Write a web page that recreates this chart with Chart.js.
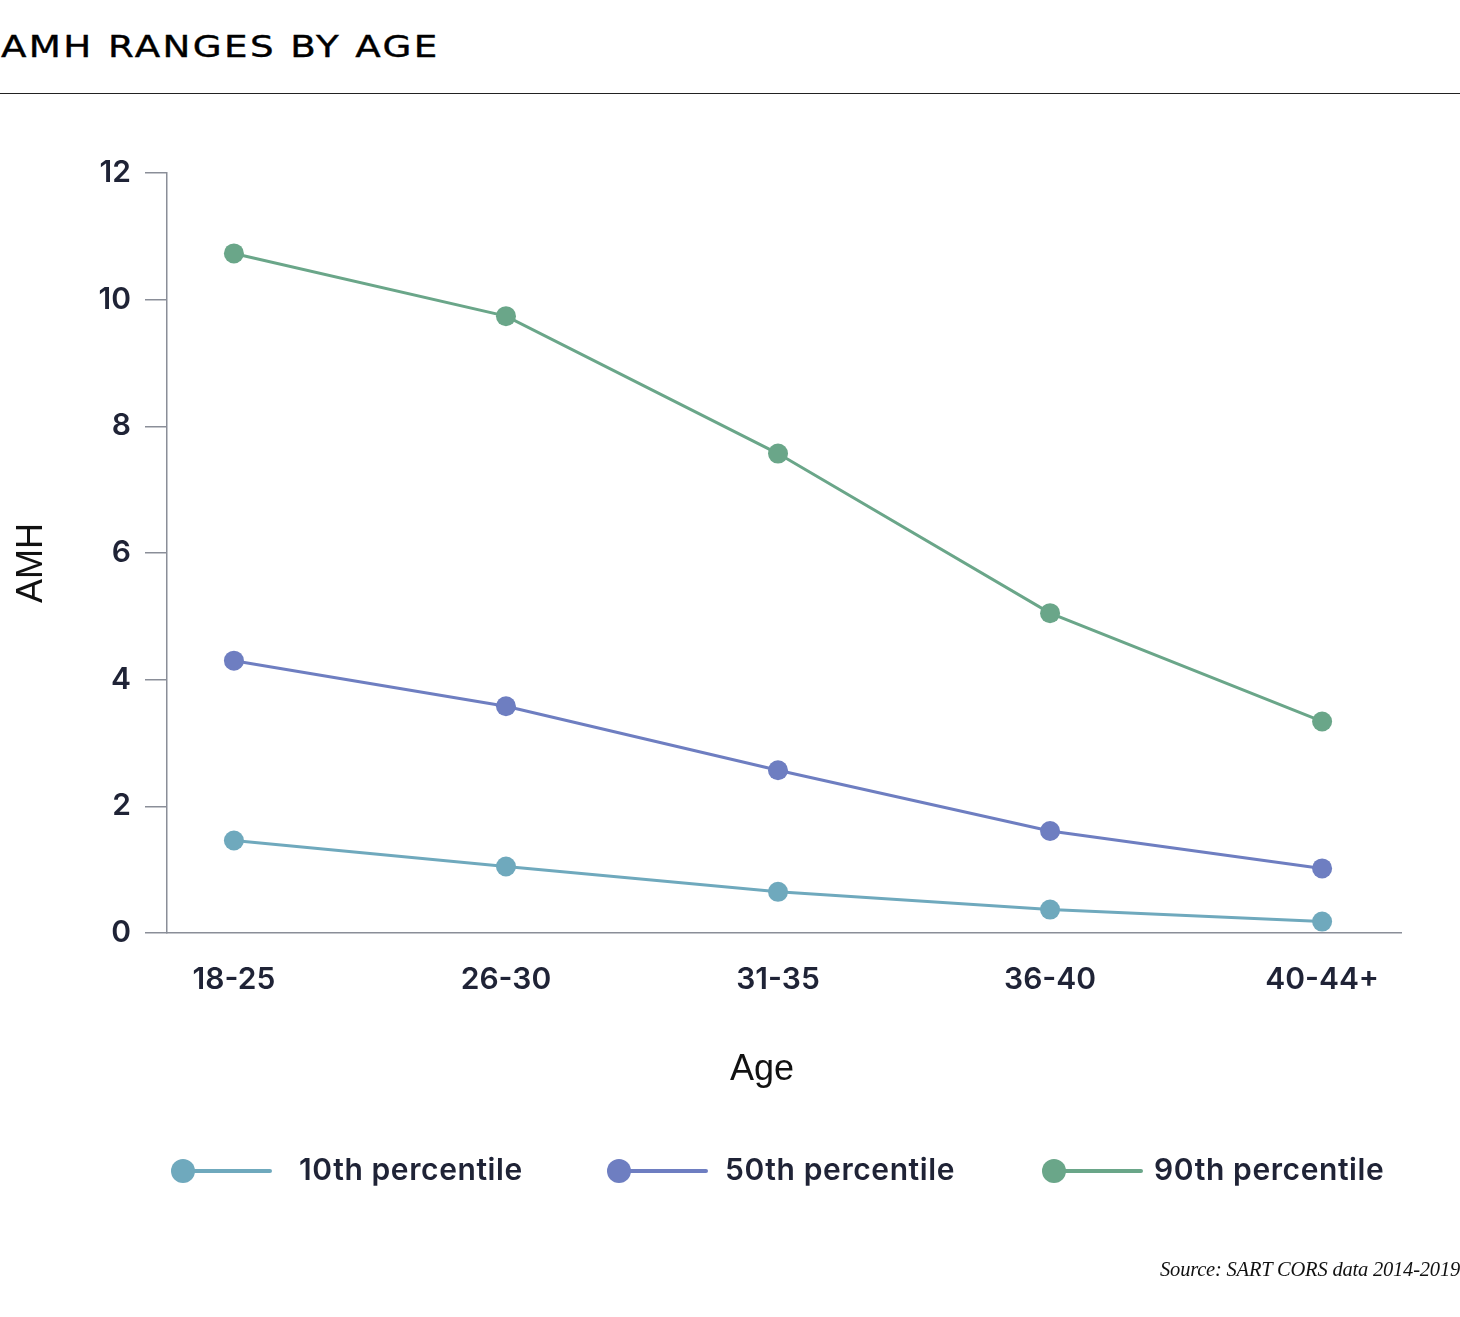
<!DOCTYPE html>
<html>
<head>
<meta charset="utf-8">
<script src="https://cdn.jsdelivr.net/npm/chart.js@4"></script>
<style>
  html, body { margin: 0; padding: 0; background: #fff; }
  body { width: 1460px; height: 1317px; position: relative; overflow: hidden; }
  #title { position: absolute; left: 1px; top: 28px; font-family: "DejaVu Sans", sans-serif; font-size: 31px; letter-spacing: 2px; color: #000; white-space: nowrap; transform-origin: 0 0; transform: scaleX(1.2); -webkit-text-stroke: 0.4px #000; }
  #rule { position: absolute; left: 0; top: 92.5px; width: 1460px; height: 0; border-top: 1.5px solid #222; }
  #wrap { position: absolute; left: 0; top: 0; width: 1460px; height: 1317px; }
  #xtitle { position: absolute; left: 762px; top: 1047px; transform: translateX(-50%); font-family: "Liberation Sans", sans-serif; font-size: 36px; color: #111; white-space: nowrap; }
  #ytitle { position: absolute; left: 30px; top: 563px; transform: translate(-50%, -50%) rotate(-90deg); font-family: "Liberation Sans", sans-serif; font-size: 36px; color: #111; white-space: nowrap; }
  .leg { position: absolute; top: 1150px; height: 42px; font-family: Inter, sans-serif; font-weight: 600; font-size: 30px; letter-spacing: 0.6px; color: #1f2336; white-space: nowrap; }
  .leg .sw { position: absolute; top: 9px; left: 0; width: 100px; height: 24px; }
  .leg .sw .dot { position: absolute; left: 0; top: 0; width: 24px; height: 24px; border-radius: 50%; }
  .leg .sw .ln { position: absolute; left: 12px; top: 10px; width: 89px; height: 4px; border-radius: 2px; }
  .leg .tx { position: absolute; top: 1px; }
  #source { position: absolute; right: 0; top: 1258px; font-family: "Liberation Serif", serif; font-style: italic; font-size: 20.5px; letter-spacing: -0.2px; color: #111; white-space: nowrap; }
</style>
</head>
<body>
<div id="title">AMH RANGES BY AGE</div>
<div id="rule"></div>
<div id="wrap"><canvas id="c" width="1460" height="1317"></canvas></div>
<div id="xtitle">Age</div>
<div id="ytitle">AMH</div>
<div id="legend"></div>
<div id="source">Source: SART CORS data 2014-2019</div>
<script>
const categories = ["18-25", "26-30", "31-35", "36-40", "40-44+"];
const p10 = [1.46, 1.05, 0.65, 0.37, 0.18];
const p50 = [4.30, 3.58, 2.57, 1.61, 1.02];
const p90 = [10.73, 9.74, 7.57, 5.05, 3.34];
const yTicks = [0, 2, 4, 6, 8, 10, 12];
const seriesNames = ["10th percentile", "50th percentile", "90th percentile"];
const seriesColors = ["#6fa9bd", "#6e7ec1", "#6aa689"];

const seriesValues = [p10, p50, p90];
const datasets = seriesValues.map((vals, s) => ({
  label: seriesNames[s],
  data: vals.map((v, i) => ({ x: i, y: v })),
  borderColor: seriesColors[s],
  backgroundColor: seriesColors[s],
  pointBackgroundColor: seriesColors[s],
  pointBorderWidth: 0,
  pointRadius: 10,
  pointHoverRadius: 10,
  borderWidth: 3,
  tension: 0,
  clip: false
}));

const textColor = "#1f2336";
const axisColor = "#8a8e98";

new Chart(document.getElementById("c"), {
  type: "line",
  data: { datasets },
  options: {
    responsive: false,
    animation: false,
    devicePixelRatio: 1,
    layout: { padding: { left: 0, top: 173, right: 59, bottom: 230 } },
    plugins: { legend: { display: false }, tooltip: { enabled: false }, title: { display: false } },
    scales: {
      x: {
        type: "linear",
        min: -0.246,
        max: 4.29,
        afterBuildTicks: (scale) => { scale.ticks = categories.map((_, i) => ({ value: i })); },
        afterFit: (scale) => { scale.height = 154; },
        grid: { display: false, drawTicks: false },
        border: { display: true, color: axisColor, width: 1.5 },
        ticks: {
          padding: 29,
          color: textColor,
          font: { family: "Inter", size: 30, weight: "600" },
          callback: (v) => categories[v],
          maxRotation: 0
        }
      },
      y: {
        min: 0,
        max: 12,
        afterBuildTicks: (scale) => { scale.ticks = yTicks.map(v => ({ value: v })); },
        afterFit: (scale) => { scale.width = 167; },
        grid: { display: true, drawOnChartArea: false, drawTicks: true, tickLength: 22, color: axisColor, lineWidth: 1.5 },
        border: { display: true, color: axisColor, width: 1.5 },
        ticks: {
          padding: 14,
          color: textColor,
          font: { family: "Inter", size: 30, weight: "600" }
        }
      }
    }
  }
});

const legendPos = [{ sw: 171, tx: 299 }, { sw: 607, tx: 725 }, { sw: 1042, tx: 1154 }];
const legendEl = document.getElementById("legend");
seriesNames.forEach((name, s) => {
  const item = document.createElement("div");
  item.className = "leg";
  item.style.left = "0px";
  item.innerHTML =
    '<div class="sw" style="left:' + legendPos[s].sw + 'px"><div class="ln" style="background:' + seriesColors[s] + '"></div><div class="dot" style="background:' + seriesColors[s] + '"></div></div>' +
    '<div class="tx" style="left:' + legendPos[s].tx + 'px">' + name + '</div>';
  legendEl.appendChild(item);
});
</script>
</body>
</html>
